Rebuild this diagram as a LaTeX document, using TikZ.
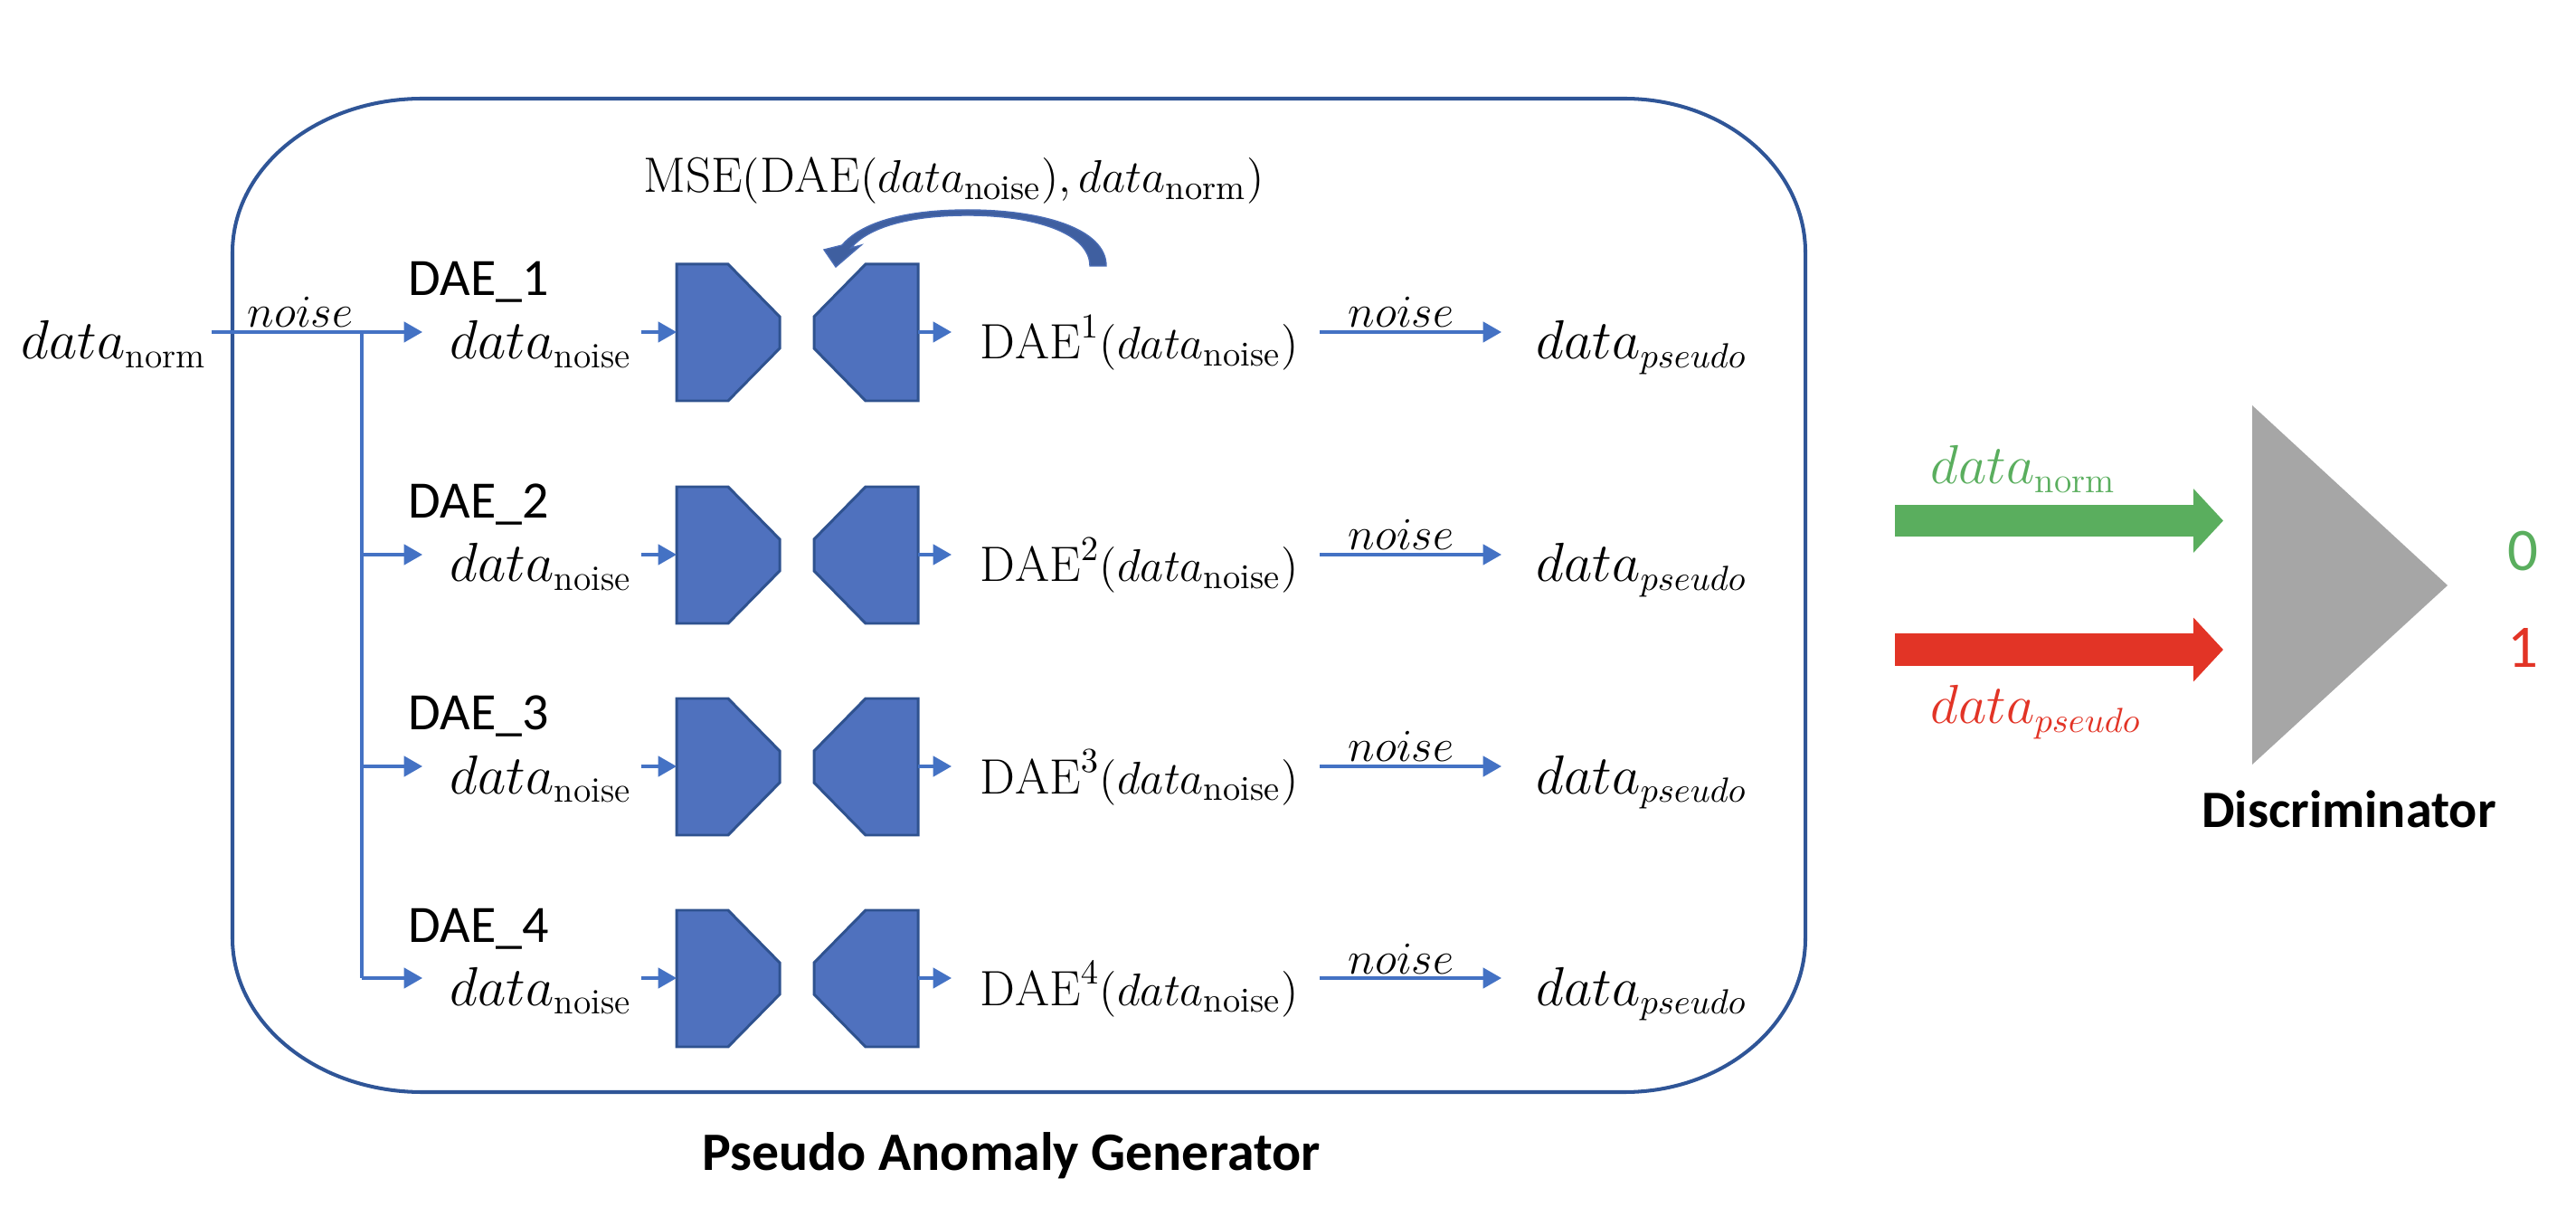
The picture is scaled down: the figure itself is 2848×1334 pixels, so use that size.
\documentclass[tikz,border=0pt]{standalone}
\usepackage{fontspec}
\newfontfamily\carlito{Carlito}
\usetikzlibrary{arrows.meta}
\definecolor{lineblue}{HTML}{4472C4}
\definecolor{boxblue}{HTML}{2F5597}
\definecolor{encfill}{HTML}{4F71BE}
\definecolor{encdraw}{HTML}{2F528F}
\definecolor{arcfill}{HTML}{3F5FA0}
\definecolor{arcdraw}{HTML}{4A6CB4}
\definecolor{grn}{HTML}{5AAE5E}
\definecolor{rdd}{HTML}{E23426}
\definecolor{gry}{HTML}{A6A6A6}
\begin{document}
\begin{tikzpicture}[x=0.01cm,y=-0.01cm,
  conn/.style={draw=lineblue,line width=0.95pt,-{Triangle[length=5.8pt,width=6.4pt]}},
  mtxt/.style={inner sep=0pt,anchor=base west,font=\fontsize{16}{19}\selectfont},
  mtxtb/.style={inner sep=0pt,anchor=base west,font=\fontsize{15.6}{19}\selectfont},
  noisetxt/.style={inner sep=0pt,anchor=base,font=\fontsize{15}{18}\selectfont},
  daetxt/.style={inner sep=0pt,anchor=base west,font=\carlito\fontsize{16.5}{20}\selectfont},
  encshape/.style={fill=encfill,draw=encdraw,line width=0.85pt,line join=miter},
  titletxt/.style={inner sep=0pt,anchor=base,font=\carlito\bfseries\fontsize{17}{20}\selectfont},
  digit/.style={inner sep=0pt,anchor=center,font=\carlito\fontsize{19}{22}\selectfont},
  blockarrow/.style={line width=0.35cm,-{Triangle[length=0.33cm,width=0.69cm]}}]
\useasboundingbox (0,0) rectangle (2848,1334);
% generator frame
\draw[boxblue,line width=1.15pt] (467,109) -- (1796,109) .. controls (1906.5,109) and (1996,185) .. (1996,279) -- (1996,1037) .. controls (1996,1131) and (1906.5,1207) .. (1796,1207) -- (467,1207) .. controls (351,1207) and (257,1131) .. (257,1037) -- (257,279) .. controls (257,185) and (351,109) .. (467,109) -- cycle;
% input
\node[mtxt] (dnorm) at (23,397) {$data_{\mathrm{norm}}$};
\coordinate (m0) at (234,367);
\coordinate (m1) at (467,367);
\coordinate (br0) at (400,367);
\coordinate (br4) at (400,1081);
\draw[conn] (m0) -- (m1);
\node[noisetxt] (noise0) at (332,362) {$noise$};
\draw[lineblue,line width=0.95pt] (br0) -- (br4);
% rows
\foreach \k/\r in {1/367,2/613,3/847,4/1081}{
  \node[daetxt] (lbl\k) at (451,\r-40) {DAE\_\k};
  \node[mtxt] (in\k) at (497,\r+30) {$data_{\mathrm{noise}}$};
  \coordinate (ein\k) at (709,\r);
  \coordinate (encw\k) at (748,\r);
  \path[encshape] (748,\r-75) -- (805,\r-75) -- (862,\r-17) -- (862,\r+18) -- (805,\r+76) -- (748,\r+76) -- cycle;
  \path[encshape] (1015,\r-75) -- (957,\r-75) -- (900,\r-17) -- (900,\r+18) -- (957,\r+76) -- (1015,\r+76) -- cycle;
  \draw[conn] (ein\k) -- (encw\k);
  \coordinate (dece\k) at (1015,\r);
  \coordinate (dout\k) at (1052,\r);
  \draw[conn] (dece\k) -- (dout\k);
  \node[mtxtb] (rec\k) at (1083,\r+30) {$\mathrm{DAE}^{\k}(data_{\mathrm{noise}})$};
  \coordinate (ns\k) at (1459,\r);
  \coordinate (ne\k) at (1660,\r);
  \draw[conn] (ns\k) -- (ne\k);
  \node[noisetxt] (nl\k) at (1549,\r-5) {$noise$};
  \node[mtxt] (ps\k) at (1698,\r+30) {$data_{pseudo}$};
}
\foreach \k/\r in {2/613,3/847,4/1081}{
  \coordinate (bs\k) at (400,\r);
  \coordinate (be\k) at (467,\r);
  \draw[conn] (bs\k) -- (be\k);
}
% MSE loss and feedback arrow
\node[mtxtb] (mse) at (711,213) {$\mathrm{MSE}(\mathrm{DAE}(data_{\mathrm{noise}}),data_{\mathrm{norm}})$};
\filldraw[fill=arcfill,draw=arcdraw,line width=0.4pt,line join=miter]
  (1223,294) .. controls (1223,252) and (1150,232) .. (1070,232)
  .. controls (1000,232) and (952,246) .. (931,271)
  -- (911,276) -- (924,295) -- (952,271) -- (941,274)
  .. controls (960,251) and (1006,238) .. (1070,238)
  .. controls (1145,238) and (1205,258) .. (1205,294) -- cycle;
\node[titletxt] (gen) at (1118,1293) {Pseudo Anomaly Generator};
% discriminator
\coordinate (t1) at (2490,448);
\coordinate (t2) at (2706,647);
\coordinate (t3) at (2490,845);
\fill[gry] (t1) -- (t2) -- (t3) -- cycle;
\coordinate (gs) at (2095,575.5);
\coordinate (ge) at (2458,575.5);
\coordinate (rs) at (2095,718);
\coordinate (re) at (2458,718);
\draw[grn,blockarrow] (gs) -- (ge);
\draw[rdd,blockarrow] (rs) -- (re);
\node[mtxt,text=grn] (gl) at (2134,535) {$data_{\mathrm{norm}}$};
\node[mtxt,text=rdd] (rl) at (2134,800) {$data_{pseudo}$};
\node[digit,text=grn] (zero) at (2789,609) {0};
\node[digit,text=rdd] (one) at (2789,716) {1};
\node[titletxt,font=\carlito\bfseries\fontsize{16.5}{20}\selectfont] (disc) at (2597,915) {Discriminator};
\end{tikzpicture}
\end{document}
